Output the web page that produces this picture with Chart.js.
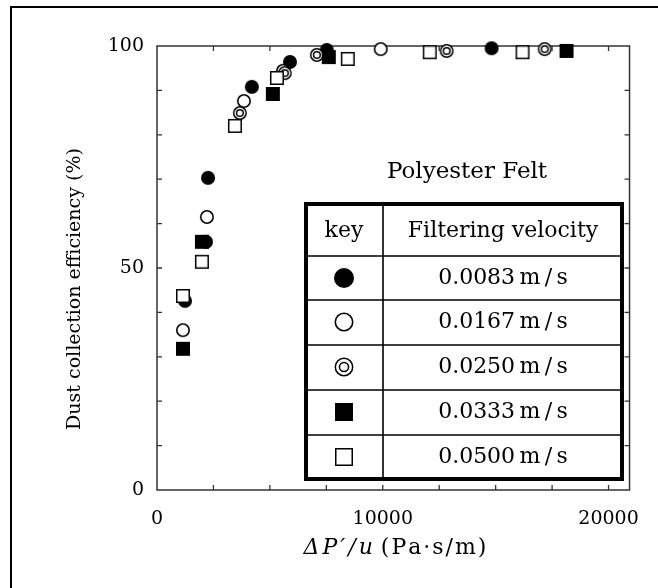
<!DOCTYPE html>
<html>
<head>
<meta charset="utf-8">
<script src="https://cdn.jsdelivr.net/npm/chart.js@4/dist/chart.umd.min.js"></script>
<style>
  html, body { margin: 0; padding: 0; background: #fff; }
  #wrap { position: relative; width: 658px; height: 588px; }
</style>
</head>
<body>
<div id="wrap"><canvas id="c" width="658" height="588"></canvas></div>
<script>
// ---- Data ----
const seriesLabels = ['0.0083\u2009m/s', '0.0167\u2009m/s', '0.0250\u2009m/s', '0.0333\u2009m/s', '0.0500\u2009m/s'];
const markerKinds = ['filledCircle', 'openCircle', 'doubleCircle', 'filledSquare', 'openSquare'];

const v0083_x = [1240, 2170, 2260, 4200, 5890, 7520, 14820];
const v0083_y = [42.6, 55.9, 70.3, 90.8, 96.4, 99.1, 99.5];

const v0167_x = [1150, 2210, 3850, 5580, 9910];
const v0167_y = [36.0, 61.5, 87.6, 94.4, 99.3];

const v0250_x = [3670, 5660, 7080, 12830, 17170];
const v0250_y = [84.9, 93.9, 98.0, 98.9, 99.3];

const v0333_x = [1150, 1990, 5130, 7610, 18140];
const v0333_y = [31.8, 55.9, 89.2, 97.5, 98.9];

const v0500_x = [1150, 1990, 3450, 5310, 8450, 12080, 16190];
const v0500_y = [43.7, 51.4, 82.0, 92.8, 97.1, 98.6, 98.6];

const xTickLabels = [0, 10000, 20000];
const yTickLabels = [0, 50, 100];

const xValues = [v0083_x, v0167_x, v0250_x, v0333_x, v0500_x];
const yValues = [v0083_y, v0167_y, v0250_y, v0333_y, v0500_y];

const SERIF = '"DejaVu Serif", "Liberation Serif", serif';

// ---- Marker drawing ----
function drawMarker(ctx, kind, cx, cy, s) {
  ctx.save();
  ctx.strokeStyle = '#000';
  ctx.fillStyle = '#000';
  const r = s / 2;
  if (kind === 'filledCircle') {
    ctx.beginPath(); ctx.arc(cx, cy, r, 0, Math.PI * 2); ctx.fill();
  } else if (kind === 'openCircle') {
    ctx.lineWidth = 1.6;
    ctx.beginPath(); ctx.arc(cx, cy, r - 0.8, 0, Math.PI * 2);
    ctx.fillStyle = '#fff'; ctx.fill(); ctx.stroke();
  } else if (kind === 'doubleCircle') {
    ctx.lineWidth = 1.5;
    ctx.beginPath(); ctx.arc(cx, cy, r - 0.8, 0, Math.PI * 2);
    ctx.fillStyle = '#fff'; ctx.fill(); ctx.stroke();
    ctx.beginPath(); ctx.arc(cx, cy, r * 0.48, 0, Math.PI * 2); ctx.stroke();
  } else if (kind === 'filledSquare') {
    ctx.fillRect(cx - r, cy - r, s, s);
  } else if (kind === 'openSquare') {
    ctx.lineWidth = 1.5;
    ctx.fillStyle = '#fff';
    ctx.fillRect(cx - r, cy - r, s, s);
    ctx.strokeRect(cx - r + 0.75, cy - r + 0.75, s - 1.5, s - 1.5);
  }
  ctx.restore();
}

function markerImage(kind, s) {
  const pad = 2;
  const cv = document.createElement('canvas');
  cv.width = s + pad * 2; cv.height = s + pad * 2;
  drawMarker(cv.getContext('2d'), kind, (s + pad * 2) / 2, (s + pad * 2) / 2, s);
  return cv;
}

const markerSize = { filledCircle: 14, openCircle: 14, doubleCircle: 14, filledSquare: 14, openSquare: 14 };

const datasets = seriesLabels.map((lab, i) => ({
  label: lab,
  data: xValues[i].map((x, j) => ({ x: x, y: yValues[i][j] })),
  pointStyle: markerImage(markerKinds[i], markerSize[markerKinds[i]]),
  pointRadius: 8,
  pointHoverRadius: 8,
  showLine: false,
  clip: false,
  order: seriesLabels.length - i
}));

function spacedText(ctx, text, x, y, spacing) {
  // draws text left-aligned with extra letter spacing, returns width
  let cx = x;
  for (const ch of text) {
    ctx.fillText(ch, cx, y);
    cx += ctx.measureText(ch).width + spacing;
  }
  return cx - x - spacing;
}
function spacedWidth(ctx, text, spacing) {
  let w = 0;
  for (const ch of text) w += ctx.measureText(ch).width + spacing;
  return w - spacing;
}

// ---- Decoration plugin: frame, inward ticks, titles, key table ----
const deco = {
  id: 'deco',
  beforeDraw(chart) {
    const ctx = chart.ctx;
    ctx.save();
    ctx.fillStyle = '#fff';
    ctx.fillRect(0, 0, chart.width, chart.height);
    ctx.strokeStyle = '#000';
    ctx.lineWidth = 2;
    ctx.beginPath();
    ctx.moveTo(11, 588); ctx.lineTo(11, 7); ctx.lineTo(658, 7);
    ctx.stroke();
    ctx.restore();
  },
  beforeDatasetsDraw(chart) {
    const ctx = chart.ctx;
    const a = chart.chartArea;
    const xs = chart.scales.x, ys = chart.scales.y;
    ctx.save();
    ctx.strokeStyle = '#333';
    ctx.lineWidth = 1.5;
    ctx.strokeRect(a.left, a.top, a.right - a.left, a.bottom - a.top);
    ctx.lineWidth = 1.3;
    ctx.beginPath();
    for (let v = 2500; v < 20930; v += 2500) {
      const px = xs.getPixelForValue(v);
      ctx.moveTo(px, a.bottom); ctx.lineTo(px, a.bottom - 5);
      ctx.moveTo(px, a.top); ctx.lineTo(px, a.top + 5);
    }
    for (let v = 10; v < 100; v += 10) {
      const py = ys.getPixelForValue(v);
      ctx.moveTo(a.left, py); ctx.lineTo(a.left + 5, py);
      ctx.moveTo(a.right, py); ctx.lineTo(a.right - 5, py);
    }
    ctx.stroke();
    ctx.restore();
  },
  afterDatasetsDraw(chart) {
    const ctx = chart.ctx;
    ctx.save();

    // y title
    ctx.fillStyle = '#000';
    ctx.save();
    ctx.translate(75, 289);
    ctx.rotate(-Math.PI / 2);
    ctx.font = '19px ' + SERIF;
    ctx.textAlign = 'center';
    ctx.textBaseline = 'middle';
    ctx.fillText('Dust collection efficiency (%)', 0, 0);
    ctx.restore();

    // x title with italic part
    const part1 = '\u0394P\u2032/u';
    const part2 = '(Pa\u00b7s/m)';
    const f1 = 'italic 22px ' + SERIF;
    const f2 = '22px ' + SERIF;
    ctx.textAlign = 'left';
    ctx.textBaseline = 'middle';
    ctx.font = f1; const w1 = spacedWidth(ctx, part1, 3);
    ctx.font = f2; const w2 = spacedWidth(ctx, part2, 2);
    const gap = 8;
    const sx = 395 - (w1 + gap + w2) / 2;
    ctx.font = f1; spacedText(ctx, part1, sx, 548, 3);
    ctx.font = f2; spacedText(ctx, part2, sx + w1 + gap, 548, 2);

    // "Polyester Felt"
    ctx.textAlign = 'center';
    ctx.font = '23px ' + SERIF;
    ctx.fillText('Polyester Felt', 467, 172);

    // key table
    const L = 306, R = 622, T = 204, B = 479, C = 383;
    const rows = [256, 300, 345, 390, 435];
    ctx.fillStyle = '#fff';
    ctx.fillRect(L, T, R - L, B - T);
    ctx.strokeStyle = '#000';
    ctx.lineWidth = 1.6;
    ctx.beginPath();
    ctx.moveTo(C, T); ctx.lineTo(C, B);
    rows.forEach(y => { ctx.moveTo(L, y); ctx.lineTo(R, y); });
    ctx.stroke();
    ctx.lineWidth = 4;
    ctx.strokeRect(L, T, R - L, B - T);

    ctx.fillStyle = '#000';
    ctx.font = '22px ' + SERIF;
    ctx.textAlign = 'center';
    ctx.textBaseline = 'middle';
    ctx.fillText('key', 344, 231);
    ctx.fillText('Filtering velocity', 503, 231);
    const centers = [278, 322, 367, 412, 457];
    const legendSize = { filledCircle: 20, openCircle: 19, doubleCircle: 19, filledSquare: 18, openSquare: 18 };
    seriesLabels.forEach((lab, i) => {
      drawMarker(ctx, markerKinds[i], 344, centers[i], legendSize[markerKinds[i]]);
      ctx.fillStyle = '#000';
      ctx.font = '22px ' + SERIF;
      ctx.fillText(lab.replace('\u2009m/s', '\u2009m\u2009/\u2009s'), 503, centers[i]);
    });
    ctx.restore();
  }
};

new Chart(document.getElementById('c'), {
  type: 'scatter',
  data: { datasets: datasets },
  options: {
    responsive: false,
    animation: false,
    devicePixelRatio: 1,
    layout: { padding: { left: 0, top: 46, right: 28, bottom: 0 } },
    plugins: {
      legend: { display: false },
      tooltip: { enabled: false },
      title: { display: false }
    },
    scales: {
      x: {
        type: 'linear',
        min: 0,
        max: 20930,
        afterFit(s) { s.height = 98; },
        afterBuildTicks(s) { s.ticks = xTickLabels.map(v => ({ value: v })); },
        ticks: {
          stepSize: 10000,
          includeBounds: false,
          padding: 18,
          color: '#000',
          maxRotation: 0,
          font: { family: SERIF, size: 19 },
          callback: v => String(v)
        },
        grid: { display: false, drawTicks: false },
        border: { display: false }
      },
      y: {
        type: 'linear',
        min: 0,
        max: 100,
        afterFit(s) { s.width = 157; },
        afterBuildTicks(s) { s.ticks = yTickLabels.map(v => ({ value: v })); },
        ticks: {
          stepSize: 50,
          includeBounds: false,
          padding: 13,
          color: '#000',
          font: { family: SERIF, size: 19 },
          callback: v => String(v)
        },
        grid: { display: false, drawTicks: false },
        border: { display: false }
      }
    }
  },
  plugins: [deco]
});
</script>
</body>
</html>
